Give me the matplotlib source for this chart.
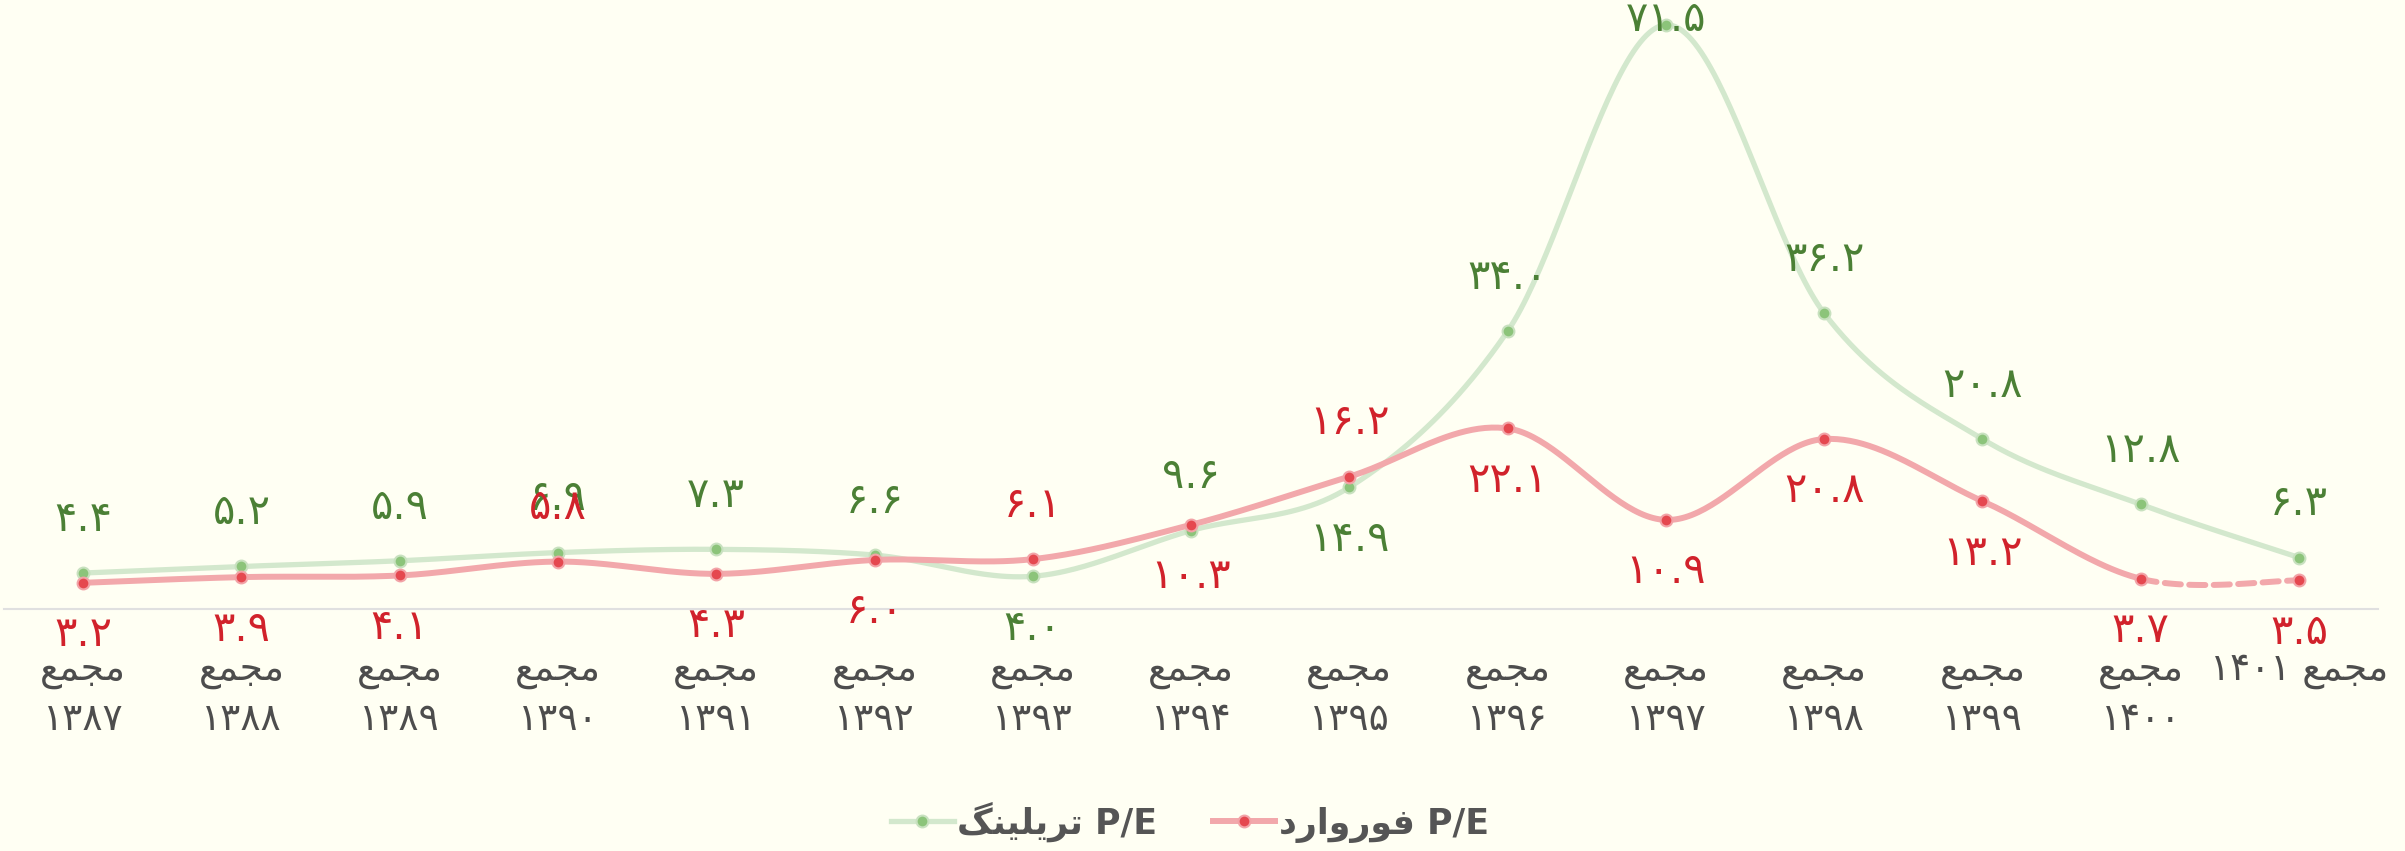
import numpy as np
import matplotlib
matplotlib.use('Agg')
import matplotlib.pyplot as plt
from matplotlib.lines import Line2D

plt.rcParams['font.family'] = ['DejaVu Sans']

# سال‌های مجمع
years = [1387, 1388, 1389, 1390, 1391, 1392, 1393, 1394,
         1395, 1396, 1397, 1398, 1399, 1400, 1401]
pe_trailing = [4.4, 5.2, 5.9, 6.9, 7.3, 6.6, 4.0, 9.6,
               14.9, 34.0, 71.5, 36.2, 20.8, 12.8, 6.3]
pe_forward = [3.2, 3.9, 4.1, 5.8, 4.3, 6.0, 6.1, 10.3,
              16.2, 22.1, 10.9, 20.8, 13.2, 3.7, 3.5]

# جای برچسب هر نقطه: بالا یا پایین
trailing_pos = ['up'] * 6 + ['down', 'up', 'down', 'up', 'top'] + ['up'] * 4
forward_pos = ['down'] * 3 + ['up', 'down', 'down', 'up', 'down', 'up'] + ['down'] * 6

# matplotlib حروف فارسی را به هم نمی‌چسباند، پس شکل‌های نمایشی را دستی می‌نویسیم
MAJMA = '\uFECA\uFEE4\uFEA0\uFEE3'                       # مجمع
TRAILING = '\uFB93\uFEE8\uFBFF\uFEE0\uFBFE\uFEAE\uFE97'  # تریلینگ
FORWARD = '\uFEA9\uFEAD\uFE8D\uFEED\uFEAD\uFEEE\uFED3'   # فوروارد


def fa(s):
    return str(s).translate(str.maketrans('0123456789', '۰۱۲۳۴۵۶۷۸۹'))


def smooth(x, y, n=50):
    # منحنی نرم شبیه اکسل (بزیه با نقاط کنترل کتمل-رام)
    x = np.asarray(x, float)
    y = np.asarray(y, float)
    px = np.r_[x[0], x, x[-1]]
    py = np.r_[y[0], y, y[-1]]
    t = np.linspace(0, 1, n)[:, None]
    segs = []
    for i in range(len(x) - 1):
        p0 = np.array([px[i], py[i]])
        p1 = np.array([px[i + 1], py[i + 1]])
        p2 = np.array([px[i + 2], py[i + 2]])
        p3 = np.array([px[i + 3], py[i + 3]])
        c1 = p1 + (p2 - p0) / 6
        c2 = p2 - (p3 - p1) / 6
        b = ((1 - t) ** 3) * p1 + 3 * ((1 - t) ** 2) * t * c1 + 3 * (1 - t) * t ** 2 * c2 + t ** 3 * p2
        segs.append(b)
    return segs


bg = '#FFFFF3'
g_line, g_mark, g_text = '#D3E8CD', '#8CC47A', '#4B8035'
r_line, r_mark, r_text = '#F2A8AB', '#E5484F', '#D1222B'
grey = '#4D4D4D'

fig = plt.figure(figsize=(24.05, 8.51), dpi=100, facecolor=bg)
ax = fig.add_axes([0.00166, 0.2844, 0.98716, 0.7156])
ax.set_facecolor(bg)

x = np.arange(len(years))

# P/E تریلینگ
gs = smooth(x, pe_trailing)
curve = np.vstack(gs)
ax.plot(curve[:, 0], curve[:, 1], color=g_line, lw=3.8, solid_capstyle='round', zorder=2)
ax.plot(x, pe_trailing, 'o', ms=8.5, mfc=g_mark, mec='#C8E1BF', mew=1.5, zorder=3)

# P/E فوروارد (سال آخر پیش‌بینی، خط‌چین)
rs = smooth(x, pe_forward)
curve = np.vstack(rs[:-1])
ax.plot(curve[:, 0], curve[:, 1], color=r_line, lw=4.3, solid_capstyle='round', zorder=4)
ax.plot(rs[-1][:, 0], rs[-1][:, 1], color=r_line, lw=4.3, dashes=(2.7, 1.4),
        dash_capstyle='round', zorder=4)
ax.plot(x, pe_forward, 'o', ms=8.5, mfc=r_mark, mec='#F2A3A7', mew=1.5, zorder=5)

offsets = {'up': 39, 'down': -37, 'top': 4}
for xi, v, p in zip(x, pe_trailing, trailing_pos):
    ax.annotate(fa(f'{v:.1f}'), (xi, v), xytext=(0, offsets[p]), textcoords='offset points',
                ha='center', va='center', fontsize=30, color=g_text, zorder=6)
for xi, v, p in zip(x, pe_forward, forward_pos):
    ax.annotate(fa(f'{v:.1f}'), (xi, v), xytext=(0, offsets[p]), textcoords='offset points',
                ha='center', va='center', fontsize=30, color=r_text, zorder=6)

labels = [MAJMA + '\n' + fa(y) for y in years[:-1]] + [fa(years[-1]) + ' ' + MAJMA]
ax.set_xticks(x)
ax.set_xticklabels(labels, fontsize=27, color=grey, linespacing=1.45)
ax.tick_params(axis='x', length=0, pad=32)
ax.set_yticks([])
ax.set_xlim(-0.5, len(years) - 0.5)
ax.set_ylim(0, 74.54)
for s in ['top', 'left', 'right']:
    ax.spines[s].set_visible(False)
ax.spines['bottom'].set_color('#E0E0E0')
ax.spines['bottom'].set_linewidth(1.5)

handles = [
    Line2D([], [], color=g_line, lw=3.8, marker='o', ms=8.5, mfc=g_mark, mec='#C8E1BF', mew=1.5),
    Line2D([], [], color=r_line, lw=4.3, marker='o', ms=8.5, mfc=r_mark, mec='#F2A3A7', mew=1.5),
]
leg = fig.legend(handles, [TRAILING + ' P/E', FORWARD + ' P/E'], loc='center',
                 bbox_to_anchor=(0.4948, 0.034), ncol=2, frameon=False,
                 handlelength=1.8, handletextpad=0.1, columnspacing=1.6,
                 prop={'size': 25, 'weight': 'bold'})
for t in leg.get_texts():
    t.set_color('#555555')

fig.savefig('out.png', dpi=100, facecolor=bg)
